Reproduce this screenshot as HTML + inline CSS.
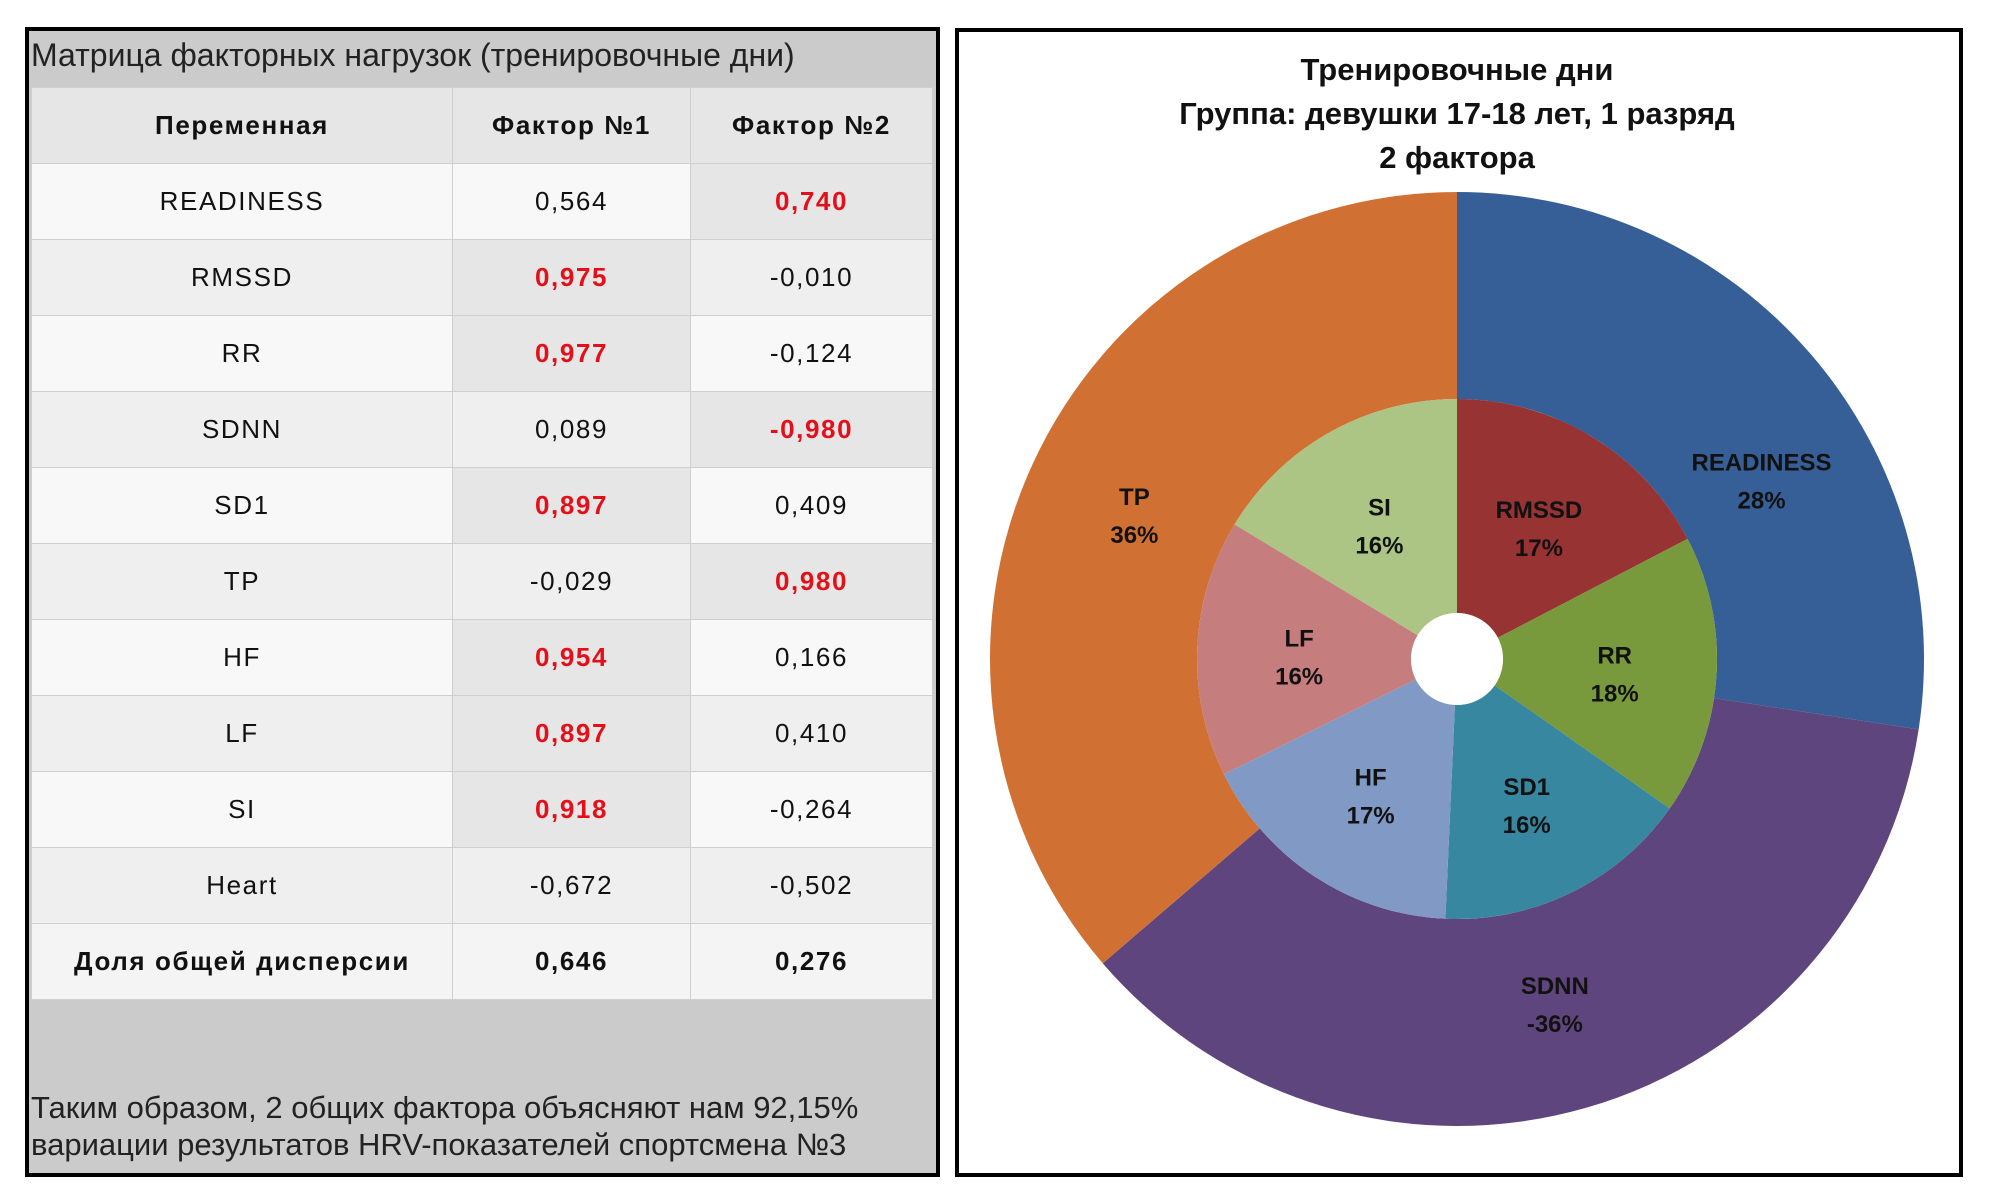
<!DOCTYPE html>
<html><head><meta charset="utf-8">
<style>
html,body{margin:0;padding:0;background:#fff;width:1994px;height:1187px;overflow:hidden;font-family:"Liberation Sans",sans-serif;}
#left{position:absolute;left:25px;top:27px;width:907px;height:1142px;border:4px solid #000;background:#cbcbcb;}
#ttl{position:absolute;left:2px;top:6px;font-size:32px;color:#222;letter-spacing:0px;}
table{position:absolute;left:2px;top:56px;width:901px;border-collapse:collapse;table-layout:fixed;}
td{height:75px;border:1px solid #cfcfcf;text-align:center;font-size:26px;color:#111;letter-spacing:1.6px;padding:0;}
tr.h td{font-weight:bold;background:#e6e6e6;height:75px;}
tr.a td{background:#f8f8f8;}
tr.b td{background:#efefef;}
td.r{color:#e3101a;font-weight:bold;background:#e6e6e6 !important;}
tr.f td{font-weight:bold;background:#f4f4f4;}
#note{position:absolute;left:2px;top:1058px;font-size:31px;line-height:37px;color:#222;letter-spacing:0px;}
#right{position:absolute;left:955px;top:28px;width:1000px;height:1141px;border:4px solid #000;background:#fff;}
</style></head><body>
<div id="left">
<div id="ttl">Матрица факторных нагрузок (тренировочные дни)</div>
<table>
<colgroup><col style="width:421px"><col style="width:238px"><col style="width:242px"></colgroup>
<tr class="h"><td>Переменная</td><td>Фактор №1</td><td>Фактор №2</td></tr>
<tr class="a"><td>READINESS</td><td>0,564</td><td class="r">0,740</td></tr>
<tr class="b"><td>RMSSD</td><td class="r">0,975</td><td>-0,010</td></tr>
<tr class="a"><td>RR</td><td class="r">0,977</td><td>-0,124</td></tr>
<tr class="b"><td>SDNN</td><td>0,089</td><td class="r">-0,980</td></tr>
<tr class="a"><td>SD1</td><td class="r">0,897</td><td>0,409</td></tr>
<tr class="b"><td>TP</td><td>-0,029</td><td class="r">0,980</td></tr>
<tr class="a"><td>HF</td><td class="r">0,954</td><td>0,166</td></tr>
<tr class="b"><td>LF</td><td class="r">0,897</td><td>0,410</td></tr>
<tr class="a"><td>SI</td><td class="r">0,918</td><td>-0,264</td></tr>
<tr class="b"><td>Heart</td><td>-0,672</td><td>-0,502</td></tr>
<tr class="f"><td>Доля общей дисперсии</td><td>0,646</td><td>0,276</td></tr>
</table>
<div id="note">Таким образом, 2 общих фактора объясняют нам 92,15%<br>вариации результатов HRV-показателей спортсмена №3</div>
</div>
<div id="right">
<svg id="pie" width="1000" height="1141"></svg>
</div>
<script>
const outerNames=["READINESS","SDNN","TP"];
const outerValues=[0.740,0.980,0.980];
const outerLabels=["28%","-36%","36%"];
const outerColors=["#375f97","#5f457d","#d07133"];
const innerNames=["RMSSD","RR","SD1","HF","LF","SI"];
const innerValues=[0.975,0.977,0.897,0.954,0.897,0.918];
const innerLabels=["17%","18%","16%","17%","16%","16%"];
const innerColors=["#973333","#789a3c","#3787a1","#8199c5","#c67d7d","#acc484"];
const titleLines=["Тренировочные дни","Группа: девушки 17-18 лет, 1 разряд","2 фактора"];

const NS="http://www.w3.org/2000/svg";
const svg=document.getElementById('pie');
const cx=498,cy=627,R1=467,R2=260,R0=46;
function pt(a,r){return [cx+r*Math.sin(a),cy-r*Math.cos(a)];}
function ring(vals,names,labels,colors,rin,rout,rlab,key){
  const tot=vals.reduce((s,v)=>s+v,0);let a0=0;
  vals.forEach((v,i)=>{
    const a1=a0+v/tot*2*Math.PI;
    const p1=pt(a0,rout),p2=pt(a1,rout),p3=pt(a1,rin),p4=pt(a0,rin);
    const lg=(a1-a0)>Math.PI?1:0;
    const path=document.createElementNS(NS,'path');
    path.setAttribute('d',`M${p1[0]},${p1[1]}A${rout},${rout} 0 ${lg} 1 ${p2[0]},${p2[1]}L${p3[0]},${p3[1]}A${rin},${rin} 0 ${lg} 0 ${p4[0]},${p4[1]}Z`);
    path.setAttribute('fill',colors[i]);
    
    
    svg.appendChild(path);
    let am=(a0+a1)/2;
    if(key==='outer'&&i===0) am+=0.17;
    const m=pt(am,rlab);
    const t=document.createElementNS(NS,'text');
    t.setAttribute('x',m[0]);t.setAttribute('y',m[1]-6);
    t.setAttribute('text-anchor','middle');
    t.setAttribute('font-family','"Liberation Sans",sans-serif');
    t.setAttribute('font-weight','bold');t.setAttribute('font-size','24');t.setAttribute('fill','#111');
    
    
    const s1=document.createElementNS(NS,'tspan');s1.setAttribute('x',m[0]);s1.textContent=names[i];
    const s2=document.createElementNS(NS,'tspan');s2.setAttribute('x',m[0]);s2.setAttribute('dy','38');s2.textContent=labels[i];
    t.appendChild(s1);t.appendChild(s2);svg.appendChild(t);
    a0=a1;
  });
}
ring(outerValues,outerNames,outerLabels,outerColors,R2,R1,355,'outer');
ring(innerValues,innerNames,innerLabels,innerColors,R0,R2,158,'inner');
const hole=document.createElementNS(NS,'circle');
hole.setAttribute('cx',cx);hole.setAttribute('cy',cy);hole.setAttribute('r',R0);hole.setAttribute('fill','#fff');


svg.appendChild(hole);
titleLines.forEach((l,i)=>{
  const t=document.createElementNS(NS,'text');
  t.setAttribute('x',cx);t.setAttribute('y',48+i*44);t.setAttribute('text-anchor','middle');
  t.setAttribute('font-family','"Liberation Sans",sans-serif');t.setAttribute('font-weight','bold');
  t.setAttribute('font-size','31');t.setAttribute('fill','#111');
  
  
  t.textContent=l;svg.appendChild(t);
});
</script>
</body></html>
